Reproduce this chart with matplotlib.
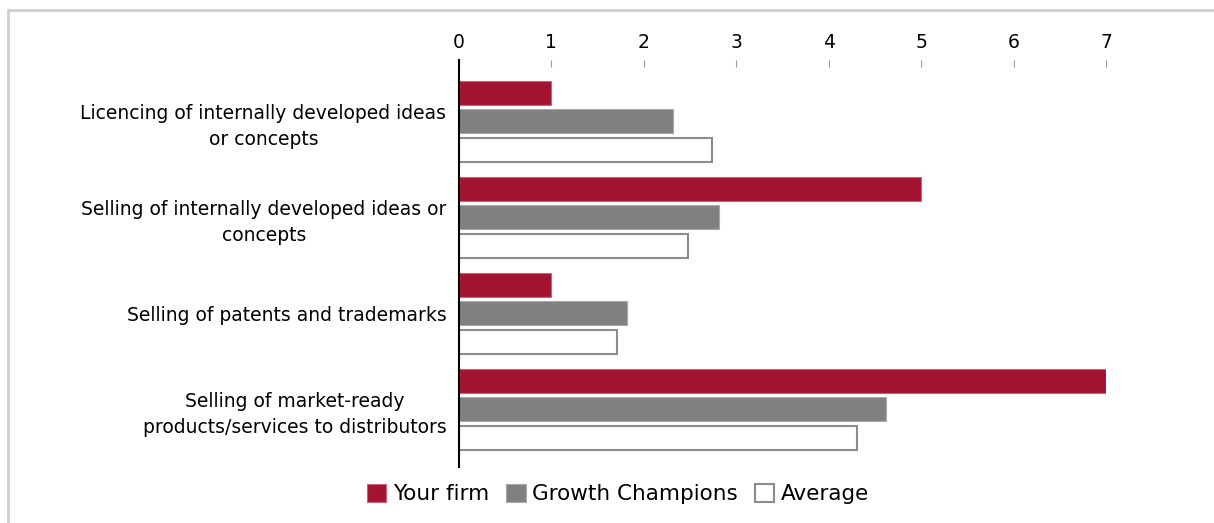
import numpy as np
import matplotlib.pyplot as plt
from matplotlib.patches import Rectangle

# data
categories = ["Licencing of internally developed ideas\nor concepts",
              "Selling of internally developed ideas or\nconcepts",
              "Selling of patents and trademarks",
              "Selling of market-ready\nproducts/services to distributors"]
your_firm = [1.0, 5.0, 1.0, 7.0]
growth_champions = [2.32, 2.81, 1.82, 4.62]
average = [2.74, 2.48, 1.71, 4.31]
series_names = ["Your firm", "Growth Champions", "Average"]

fig = plt.figure(figsize=(12.14, 5.23), dpi=100)
ax = fig.add_axes([0.378, 0.107, 0.533, 0.778])

y = np.arange(len(categories))
off = 0.297
h = 0.25
ax.barh(y - off, your_firm, height=h, color="#a31432", edgecolor="#c9657a", linewidth=0.8, label=series_names[0])
ax.barh(y, growth_champions, height=h, color="#808080", edgecolor="#a8a8a8", linewidth=0.8, label=series_names[1])
ax.barh(y + off, average, height=h, color="white", edgecolor="#8c8c8c", linewidth=1.5, label=series_names[2])

ax.set_xlim(0, 7)
ax.set_ylim(3.60, -0.635)
ax.set_yticks(y)
ax.set_yticklabels(categories, fontsize=13.5, family="DejaVu Sans", ha="right",
                   multialignment="center", linespacing=1.45)
ax.tick_params(axis="y", length=0, pad=9)
ax.xaxis.tick_top()
ax.set_xticks(range(8))
ax.tick_params(axis="x", direction="in", length=5, color="#999999", pad=6, labelsize=13.5)
for s in ["top", "right", "bottom"]:
    ax.spines[s].set_visible(False)
ax.spines["left"].set_linewidth(1.5)
ax.spines["left"].set_color("black")

leg = fig.legend(loc="center", bbox_to_anchor=(0.509, 0.055), ncol=3, frameon=False,
                 fontsize=15.5, handlelength=0.9, handleheight=0.9, handletextpad=0.3,
                 columnspacing=0.8)

fig.patches.append(Rectangle((8 / 1214, -0.05), 1.2, 1 - 10 / 523 + 0.05, transform=fig.transFigure,
                             fill=False, edgecolor="#d0d0d0", linewidth=2))

plt.savefig("out.png", dpi=100)
